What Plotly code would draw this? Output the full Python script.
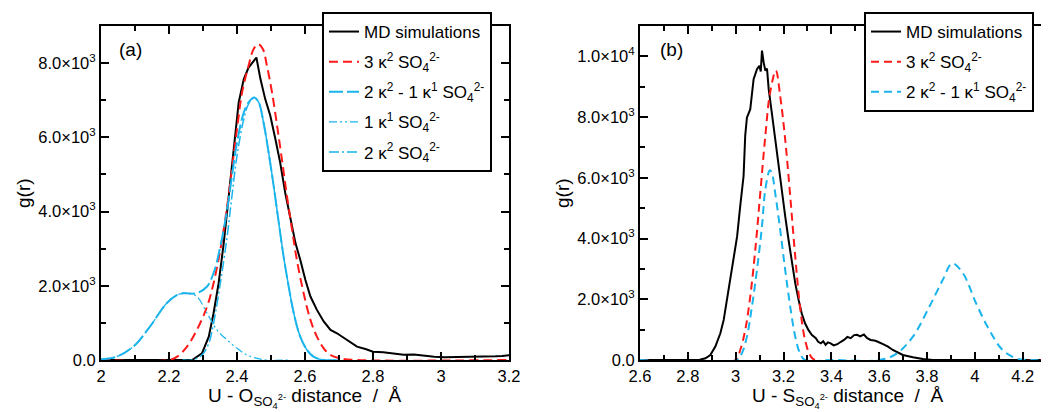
import plotly.graph_objects as go

# ---------------- Panel (a): U - O(SO4) ----------------
a_md_x = [2.0, 2.1, 2.2, 2.25, 2.268, 2.297, 2.317, 2.331, 2.346, 2.361, 2.375, 2.390, 2.405, 2.420,
          2.434, 2.457, 2.469, 2.483, 2.498, 2.513, 2.527, 2.542, 2.557, 2.572, 2.586, 2.601,
          2.616, 2.635, 2.655, 2.675, 2.694, 2.714, 2.735, 2.753, 2.78, 2.80, 2.83, 2.86, 2.89,
          2.92, 2.95, 2.98, 3.01, 3.04, 3.07, 3.10, 3.13, 3.16, 3.18, 3.2]
a_md_y = [0, 0, 0, 0, 0, 180, 630, 1260, 2070, 3150, 4410, 5590, 6940, 7570,
          7880, 8150, 7570, 7030, 6580, 5950, 5320, 4500, 3780, 3150, 2700, 2160,
          1710, 1350, 1040, 810, 720, 590, 470, 360, 290, 225, 210, 180, 140,
          150, 110, 90, 75, 80, 70, 75, 90, 100, 110, 126]

a_red_x = [2.0, 2.2, 2.224, 2.253, 2.282, 2.312, 2.331, 2.351, 2.371, 2.385, 2.400, 2.415, 2.434,
           2.449, 2.462, 2.476, 2.488, 2.503, 2.518, 2.532, 2.547, 2.562, 2.576, 2.596, 2.616,
           2.635, 2.655, 2.675, 2.704, 2.75, 3.2]
a_red_y = [0, 0, 90, 360, 810, 1440, 2070, 2970, 4140, 5140, 6220, 7210, 7930,
           8380, 8510, 8380, 7930, 7210, 6310, 5410, 4410, 3510, 2700, 1800, 1080,
           630, 315, 135, 45, 0, 0]

a_mix_x = [2.0, 2.046, 2.095, 2.144, 2.193, 2.223, 2.242, 2.262, 2.282, 2.312, 2.331, 2.351, 2.371,
           2.385, 2.400, 2.420, 2.434, 2.451, 2.464, 2.478, 2.493, 2.508, 2.523, 2.537, 2.552,
           2.567, 2.586, 2.606, 2.625, 2.655, 2.7]
a_mix_y = [18, 90, 360, 900, 1530, 1750, 1800, 1790, 1800, 1980, 2340, 3060, 4050,
           4950, 5860, 6670, 6940, 7070, 6940, 6400, 5590, 4680, 3690, 2790, 1980,
           1260, 630, 270, 90, 0, 0]

a_k1_x = [2.0, 2.046, 2.095, 2.144, 2.193, 2.223, 2.245, 2.262, 2.282, 2.312, 2.341, 2.371, 2.400,
          2.429, 2.459, 2.488, 2.55]
a_k1_y = [18, 90, 360, 900, 1530, 1750, 1800, 1780, 1710, 1260, 810, 540, 315,
          135, 45, 0, 0]

a_k2_x = [2.24, 2.268, 2.297, 2.317, 2.331, 2.351, 2.371, 2.385, 2.400, 2.420, 2.434, 2.451, 2.464,
          2.478, 2.493, 2.508, 2.523, 2.537, 2.552, 2.567, 2.586, 2.606, 2.625, 2.655, 2.7]
a_k2_y = [0, 0, 135, 450, 990, 2070, 3330, 4410, 5500, 6490, 6900, 7070, 6940,
          6400, 5590, 4680, 3690, 2790, 1980, 1260, 630, 270, 90, 0, 0]

# ---------------- Panel (b): U - S(SO4) ----------------
b_md_x = [2.6, 2.8, 2.85, 2.874, 2.894, 2.915, 2.936, 2.95, 2.964, 2.978, 2.992, 3.006, 3.019, 3.033,
          3.040, 3.047, 3.061, 3.075, 3.089, 3.099, 3.105, 3.11, 3.117, 3.124, 3.131, 3.138,
          3.151, 3.165, 3.179, 3.193, 3.207, 3.221, 3.235, 3.249, 3.263, 3.270, 3.276, 3.29,
          3.304, 3.318, 3.335, 3.345, 3.356, 3.366, 3.376, 3.386, 3.397, 3.41, 3.425, 3.44,
          3.453, 3.467, 3.481, 3.495, 3.508, 3.52, 3.536, 3.55, 3.564, 3.58, 3.592, 3.616,
          3.637, 3.657, 3.699, 3.741, 3.783, 3.824, 4.31]
b_md_y = [0, 0, 10, 55, 165, 440, 880, 1320, 1980, 2640, 3410, 4070, 5070, 6060,
          7400, 7980, 8260, 9250, 9580, 9690, 9500, 10190, 9800, 9530, 9600, 8920,
          8150, 7270, 6500, 5620, 4740, 3960, 3190, 2530, 1980, 1700, 1540, 1210,
          990, 830, 720, 600, 550, 620, 500, 580, 550, 480, 520, 600,
          660, 760, 720, 820, 830, 780, 840, 720, 660, 640, 610, 520,
          440, 330, 165, 90, 30, 0, 0]

b_red_x = [2.6, 2.999, 3.019, 3.04, 3.061, 3.082, 3.103, 3.124, 3.144, 3.168, 3.186, 3.207, 3.228,
           3.249, 3.269, 3.29, 3.311, 3.332, 4.31]
b_red_y = [0, 0, 330, 990, 2090, 3630, 5510, 7380, 8810, 9530, 8700, 7270, 5400,
           3410, 1760, 660, 165, 0, 0]

b_mix_x = [2.6, 3.006, 3.026, 3.047, 3.068, 3.089, 3.11, 3.124, 3.143, 3.151, 3.165, 3.186, 3.207,
           3.228, 3.249, 3.269, 3.29, 3.4, 3.602, 3.671, 3.741, 3.81, 3.866, 3.905, 3.95,
           4.005, 4.06, 4.116, 4.172, 4.228, 4.31]
b_mix_y = [0, 0, 220, 770, 1760, 2970, 4410, 5620, 6250, 6170, 5510, 4300, 2970,
           1760, 770, 220, 0, 0, 0, 200, 770, 1760, 2640, 3180, 2860,
           1870, 990, 330, 55, 0, 0]

a_yticks = [0, 2000, 4000, 6000, 8000]
a_yticktext = ["0.0", "2.0×10<sup>3</sup>", "4.0×10<sup>3</sup>", "6.0×10<sup>3</sup>", "8.0×10<sup>3</sup>"]
b_yticks = [0, 2000, 4000, 6000, 8000, 10000]
b_yticktext = ["0.0", "2.0×10<sup>3</sup>", "4.0×10<sup>3</sup>", "6.0×10<sup>3</sup>",
               "8.0×10<sup>3</sup>", "1.0×10<sup>4</sup>"]
a_xticks = [2.0, 2.2, 2.4, 2.6, 2.8, 3.0, 3.2]
a_xticktext = ["2", "2.2", "2.4", "2.6", "2.8", "3", "3.2"]
b_xticks = [2.6, 2.8, 3.0, 3.2, 3.4, 3.6, 3.8, 4.0, 4.2]
b_xticktext = ["2.6", "2.8", "3", "3.2", "3.4", "3.6", "3.8", "4", "4.2"]

lab_md = "MD simulations"
lab_3k2 = "3 κ<sup>2</sup> SO<sub>4</sub><sup>2-</sup>"
lab_mix = "2 κ<sup>2</sup> - 1 κ<sup>1</sup> SO<sub>4</sub><sup>2-</sup>"
lab_1k1 = "1 κ<sup>1</sup> SO<sub>4</sub><sup>2-</sup>"
lab_2k2 = "2 κ<sup>2</sup> SO<sub>4</sub><sup>2-</sup>"

RED = "#FF1A1A"
CYAN = "#1AB4EC"
FONT = "Liberation Sans, Arial, Helvetica, sans-serif"

fig = go.Figure()

# panel a
fig.add_trace(go.Scatter(x=a_md_x, y=a_md_y, mode="lines", name=lab_md, legendgroup="a1",
                         line=dict(color="black", width=2), xaxis="x", yaxis="y", legend="legend"))
fig.add_trace(go.Scatter(x=a_red_x, y=a_red_y, mode="lines", name=lab_3k2, line_shape="spline", legendgroup="a2",
                         line=dict(color=RED, width=2, dash="9px,5px"), xaxis="x", yaxis="y", legend="legend"))
fig.add_trace(go.Scatter(x=a_mix_x, y=a_mix_y, mode="lines", name=lab_mix, line_shape="spline", legendgroup="a3",
                         line=dict(color=CYAN, width=2, dash="14px,4px"), xaxis="x", yaxis="y", legend="legend"))
fig.add_trace(go.Scatter(x=a_k1_x, y=a_k1_y, mode="lines", name=lab_1k1, line_shape="spline", legendgroup="a4",
                         line=dict(color=CYAN, width=1.2, dash="8px,3px,2px,3px,2px,3px"),
                         xaxis="x", yaxis="y", legend="legend"))
fig.add_trace(go.Scatter(x=a_k2_x, y=a_k2_y, mode="lines", name=lab_2k2, line_shape="spline", legendgroup="a5",
                         line=dict(color=CYAN, width=1.5, dash="10px,3px,2px,3px"),
                         xaxis="x", yaxis="y", legend="legend"))

# panel b
fig.add_trace(go.Scatter(x=b_md_x, y=b_md_y, mode="lines", name=lab_md, legendgroup="b1",
                         line=dict(color="black", width=2), xaxis="x2", yaxis="y2", legend="legend2"))
fig.add_trace(go.Scatter(x=b_red_x, y=b_red_y, mode="lines", name=lab_3k2, line_shape="spline", legendgroup="b2",
                         line=dict(color=RED, width=2, dash="8px,5px"), xaxis="x2", yaxis="y2", legend="legend2"))
fig.add_trace(go.Scatter(x=b_mix_x, y=b_mix_y, mode="lines", name=lab_mix, line_shape="spline", legendgroup="b3",
                         line=dict(color=CYAN, width=2, dash="8px,5px"), xaxis="x2", yaxis="y2", legend="legend2"))

W, H = 1049, 412
OFF = 8  # page body margin offset of the plot div


def px(xp):
    return (xp - OFF) / W


def py(yp):
    return 1 - (yp - OFF) / H


axis_common = dict(showline=True, linecolor="black", linewidth=2, mirror="allticks",
                   ticks="inside", ticklen=8, tickwidth=1.5, tickcolor="black",
                   showgrid=False, zeroline=False, automargin=False,
                   tickfont=dict(family=FONT, size=16.5, color="black"))

fig.update_layout(
    template="none",
    width=W, height=H,
    margin=dict(l=0, r=0, t=0, b=0, pad=0, autoexpand=False),
    paper_bgcolor="white", plot_bgcolor="white",
    font=dict(family=FONT, color="black"),
    xaxis=dict(domain=[px(101), px(509)], range=[2.0, 3.2], anchor="y",
               tickvals=a_xticks, ticktext=a_xticktext,
               minor=dict(dtick=0.1, ticks="inside", ticklen=5, tickwidth=1.5, tickcolor="black"),
               **axis_common),
    yaxis=dict(domain=[py(360), py(26)], range=[0, 9000], anchor="x",
               tickvals=a_yticks, ticktext=a_yticktext,
               minor=dict(dtick=1000, ticks="inside", ticklen=5, tickwidth=1.5, tickcolor="black"),
               **axis_common),
    xaxis2=dict(domain=[px(640), px(1049)], range=[2.6, 4.31], anchor="y2",
                tickvals=b_xticks, ticktext=b_xticktext,
                minor=dict(dtick=0.1, tick0=2.6, ticks="inside", ticklen=5, tickwidth=1.5, tickcolor="black"),
                **axis_common),
    yaxis2=dict(domain=[py(360), py(26)], range=[0, 11000], anchor="x2",
                tickvals=b_yticks, ticktext=b_yticktext,
                minor=dict(dtick=1000, ticks="inside", ticklen=5, tickwidth=1.5, tickcolor="black"),
                **axis_common),
    legend=dict(x=px(492), y=py(12), xanchor="right", yanchor="top",
                bgcolor="white", bordercolor="black", borderwidth=2,
                font=dict(family=FONT, size=17, color="black"), itemwidth=30,
                tracegroupgap=5),
    legend2=dict(x=px(1034), y=py(12), xanchor="right", yanchor="top",
                 bgcolor="white", bordercolor="black", borderwidth=2,
                 font=dict(family=FONT, size=17, color="black"), itemwidth=30,
                 tracegroupgap=5),
    showlegend=True,
)

ann_font = dict(family=FONT, size=19, color="black")
fig.add_annotation(x=px(130), y=py(50), xref="paper", yref="paper", text="(a)",
                   showarrow=False, font=ann_font, xanchor="center", yanchor="middle")
fig.add_annotation(x=px(671), y=py(50), xref="paper", yref="paper", text="(b)",
                   showarrow=False, font=ann_font, xanchor="center", yanchor="middle")
fig.add_annotation(x=px(23), y=py(193), xref="paper", yref="paper", text="g(r)", textangle=-90,
                   showarrow=False, font=ann_font, xanchor="center", yanchor="middle")
fig.add_annotation(x=px(562), y=py(193), xref="paper", yref="paper", text="g(r)", textangle=-90,
                   showarrow=False, font=ann_font, xanchor="center", yanchor="middle")
fig.add_annotation(x=px(305), y=py(398), xref="paper", yref="paper",
                   text="U - O<sub>SO<sub>4</sub><sup>2-</sup></sub> distance  /  Å",
                   showarrow=False, font=ann_font, xanchor="center", yanchor="middle")
fig.add_annotation(x=px(847), y=py(398), xref="paper", yref="paper",
                   text="U - S<sub>SO<sub>4</sub><sup>2-</sup></sub> distance  /  Å",
                   showarrow=False, font=ann_font, xanchor="center", yanchor="middle")

fig.write_html("out.html")
